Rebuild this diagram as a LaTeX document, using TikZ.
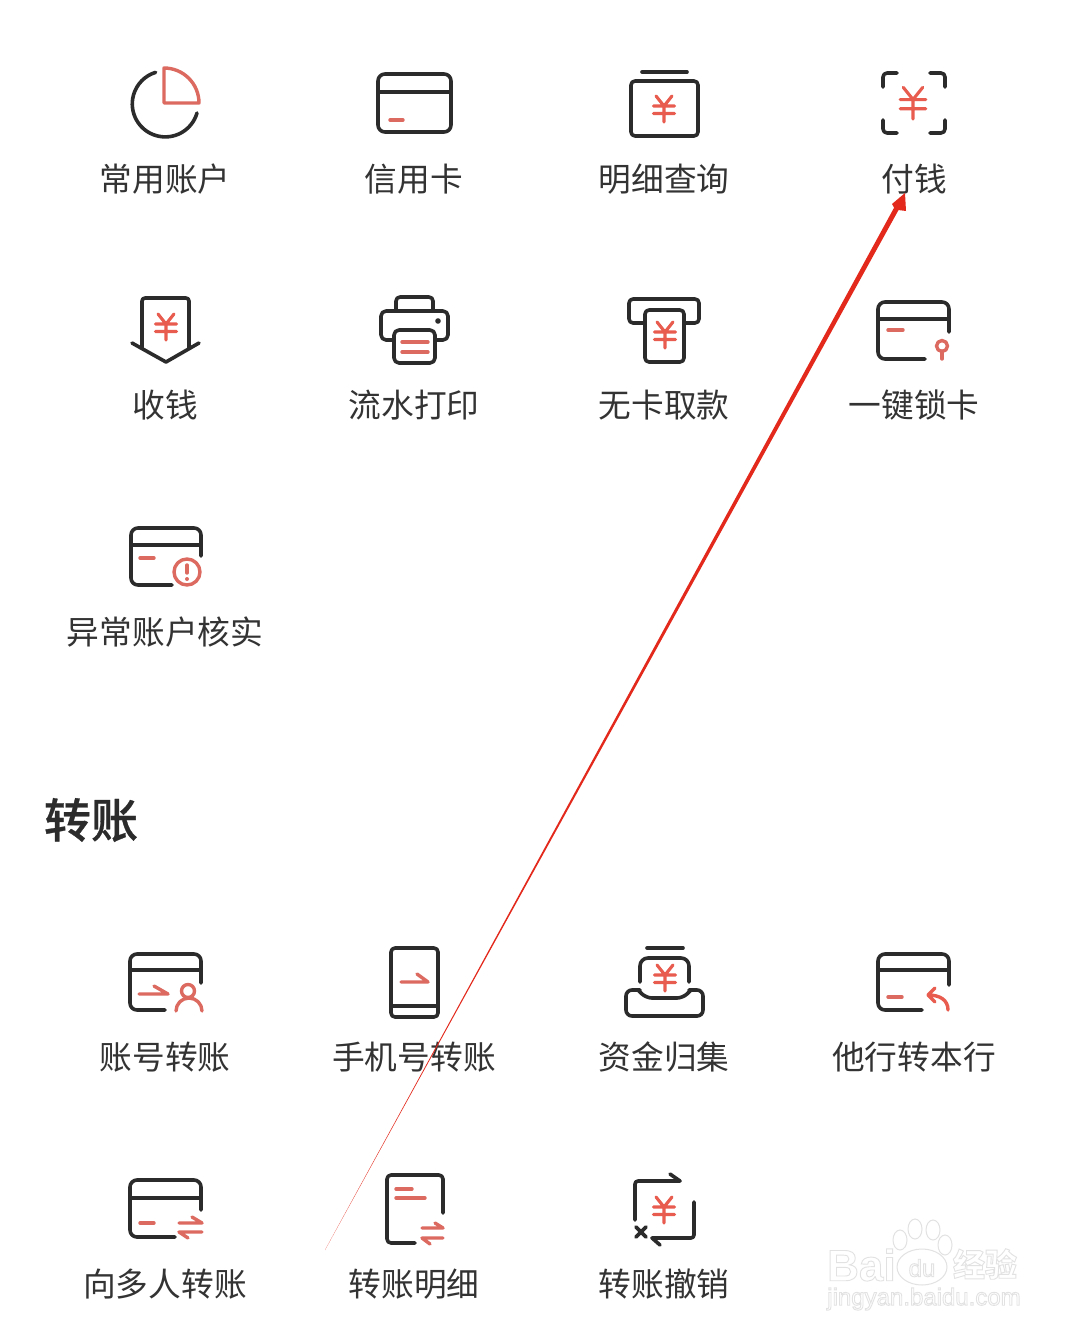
\documentclass[tikz,border=0pt]{standalone}
\usepackage{fontspec}
\setmainfont{Liberation Sans}
\newfontfamily\cjk{Noto Sans CJK SC}
\newfontfamily\cjkmed[FakeBold=0.6]{Noto Sans CJK SC Medium}
\usetikzlibrary{positioning, calc}

\definecolor{inkdark}{HTML}{2B2B2B}
\definecolor{inkred}{HTML}{DC6A60}
\definecolor{yenred}{HTML}{E85C50}
\definecolor{arrowred}{HTML}{E3281C}
\definecolor{txtgray}{HTML}{333333}
\definecolor{wmgray}{HTML}{E2E2E2}

\tikzset{
  darkline/.style={draw=inkdark, line width=3.6pt, line cap=round, line join=round},
  redline/.style={draw=inkred, line width=3.4pt, line cap=round, line join=round},
  caption/.style={text=txtgray, font=\cjk\fontsize{32.7}{36}\selectfont, inner sep=0pt},
  yuan/.pic={
    \draw[draw=yenred, line width=3.1pt, line cap=round, line join=round]
      (-8,-12) -- (0,-2) -- (8,-12)
      (-10.5,-2) -- (10.5,-2)
      (-10.5,5.5) -- (10.5,5.5)
      (0,-2) -- (0,14);
  }
}

% left, top, right, header y, right end y, bottom, bottom end x
\newcommand{\cardopen}[7]{
  \draw[darkline, rounded corners=7pt] (#3,#5) -- (#3,#2) -- (#1,#2) -- (#1,#6) -- (#7,#6);
  \draw[darkline] (#1,#4) -- (#3,#4);
}
% hollow letters of the watermark
\newcommand{\hollow}[1]{\special{pdf:code 1 Tr 0.9 w}#1\special{pdf:code 0 Tr 1 w}}

\begin{document}
\begin{tikzpicture}[x=1pt, y=-1pt]
   \useasboundingbox (0,0) rectangle (1080,1335);
   \fill[white] (0,0) rectangle (1080,1335);

   % first group
   \draw[darkline] (197,113) arc[start angle=16, end angle=253, radius=33];
   \draw[redline] (164,70) -- (164,103) -- (199,103) arc[start angle=0, end angle=-90, radius=35] -- cycle;
   \node[caption] (account) at (165,179) {常用账户};

   \draw[darkline, rounded corners=7pt] (378,74) rectangle (451,132);
   \draw[darkline] (378,92) -- (451,92);
   \draw[redline] (390,120) -- (403,120);
   \node[caption] (credit) at (414,179) {信用卡};

   \draw[darkline] (642,72) -- (687,72);
   \draw[darkline, rounded corners=4pt] (631,81) rectangle (698,136);
   \pic at (664,108) {yuan};
   \node[caption] (detail) at (664,179) {明细查询};

   \draw[darkline, rounded corners=4pt] (883,87) -- (883,73) -- (897,73);
   \draw[darkline, rounded corners=4pt] (930,73) -- (945,73) -- (945,87);
   \draw[darkline, rounded corners=4pt] (883,120) -- (883,133) -- (897,133);
   \draw[darkline, rounded corners=4pt] (930,133) -- (945,133) -- (945,120);
   \pic[scale=1.22] at (913,102) {yuan};
   \node[caption] (pay) at (914,179) {付钱};

   % second row
   \draw[darkline, rounded corners=3pt] (142,348) -- (142,298) -- (189,298) -- (189,348);
   \draw[darkline] (132,343) -- (166,362) -- (199,343);
   \pic at (166,326) {yuan};
   \node[caption] (receive) at (165,405) {收钱};

   \draw[darkline, rounded corners=4pt] (396,311) -- (396,297) -- (433,297) -- (433,311);
   \draw[darkline, rounded corners=5pt] (394,340) -- (381,340) -- (381,311) -- (448,311) -- (448,340) -- (435,340);
   \draw[darkline, rounded corners=5pt] (394,330) rectangle (435,363);
   \fill[inkdark] (438,321) circle (2.8);
   \draw[redline] (402,342) -- (428,342) (402,352) -- (428,352);
   \node[caption] (printer) at (414,405) {流水打印};

   \draw[darkline, rounded corners=4pt] (645,323) -- (629,323) -- (629,299) -- (699,299) -- (699,323) -- (684,323);
   \draw[darkline, rounded corners=4pt] (645,310) rectangle (684,362);
   \pic at (665,334) {yuan};
   \node[caption] (cardless) at (664,405) {无卡取款};

   \cardopen{878}{302}{949}{319}{332}{359}{925}
   \draw[redline] (888,330) -- (903,330);
   \draw[redline] (942,346) circle (5.5);
   \draw[redline] (942,351) -- (942,359);
   \node[caption] (lockcard) at (914,405) {一键锁卡};

   % third row
   \cardopen{131}{528}{201}{545}{556}{585}{172}
   \draw[redline] (140,558) -- (154,558);
   \draw[redline] (187,572) circle (13);
   \draw[redline] (187,565) -- (187,573);
   \fill[inkred] (187,579) circle (2);
   \node[caption] (abnormal) at (165,632) {异常账户核实};

   \node[text=inkdark, font=\cjkmed\fontsize{47}{50}\selectfont, inner sep=0pt] (transfer) at (91,820) {转账};

   % transfer group
   \cardopen{130}{954}{201}{970}{983}{1010}{165}
   \draw[redline] (139,994) -- (168,994) -- (154,986);
   \draw[redline] (188,991) circle (6.5);
   \draw[redline] (176,1011) arc[start angle=180, end angle=360, radius=13];
   \node[caption] (byaccount) at (165,1057) {账号转账};

   \draw[darkline, rounded corners=4pt] (391,948) rectangle (438,1017);
   \draw[darkline] (391,1006) -- (438,1006);
   \draw[redline] (401,982) -- (428,982) -- (417,974);
   \node[caption] (byphone) at (414,1057) {手机号转账};

   \draw[darkline] (647,948) -- (683,948);
   \draw[darkline, rounded corners=8pt] (640,982) -- (640,958) -- (689,958) -- (689,982);
   \draw[darkline, rounded corners=6pt] (640,990) -- (626,990) -- (626,1016) -- (703,1016) -- (703,990) -- (689,990);
   \draw[darkline, rounded corners=6pt] (638,990) -- (646,998) -- (683,998) -- (691,990);
   \pic at (665,977) {yuan};
   \node[caption] (collect) at (664,1057) {资金归集};

   \cardopen{878}{954}{949}{970}{985}{1010}{922}
   \draw[redline] (888,997) -- (902,997);
   \draw[draw=yenred, line width=3.4pt, line cap=round, line join=round]
     (948,1010) .. controls (948,1000) and (940,995) .. (928,995)
     (935,988) -- (928,995) -- (935,1002);
   \node[caption] (otherbank) at (914,1057) {他行转本行};

   % last row
   \cardopen{130}{1180}{201}{1198}{1210}{1237}{175}
   \draw[redline] (140,1223) -- (154,1223);
   \draw[redline] (179,1223) -- (202,1223) -- (192,1217);
   \draw[redline] (202,1232) -- (179,1232) -- (188,1238);
   \node[caption] (multi) at (165,1284) {向多人转账};

   \draw[darkline, rounded corners=4pt] (443,1213) -- (443,1175) -- (387,1175) -- (387,1243) -- (415,1243);
   \draw[redline] (396,1189) -- (412,1189) (396,1198) -- (425,1198);
   \draw[redline] (422,1228) -- (443,1228) -- (435,1223);
   \draw[redline] (443,1238) -- (422,1238) -- (430,1244);
   \node[caption] (history) at (414,1284) {转账明细};

   \draw[darkline, rounded corners=3pt] (635,1220) -- (635,1181) -- (680,1181);
   \draw[darkline] (680,1181) -- (670,1174);
   \draw[darkline, rounded corners=3pt] (694,1202) -- (694,1238) -- (652,1238);
   \draw[darkline] (652,1238) -- (660,1245);
   \draw[darkline] (636,1227) -- (646,1237) (646,1227) -- (636,1237);
   \pic at (664,1209) {yuan};
   \node[caption] (revoke) at (664,1284) {转账撤销};

   % watermark
   \node[text=wmgray, font=\bfseries\fontsize{44}{44}\selectfont, inner sep=0pt, anchor=west] (wmbai) at (827,1265) {\hollow{Bai}};
   \draw[wmgray, line width=1pt] (900,1240) ellipse (7 and 10)
        (915,1229) ellipse (7 and 10)
        (933,1230) ellipse (7 and 10)
        (945,1245) ellipse (7 and 10);
   \draw[wmgray, line width=1pt, fill=white] (922,1267) ellipse (25 and 18);
   \node[text=wmgray, font=\fontsize{24}{24}\selectfont, inner sep=0pt] (wmdu) at (922,1268) {\hollow{du}};
   \node[text=wmgray, font=\cjk\bfseries\fontsize{32}{32}\selectfont, inner sep=0pt] (wmjy) at (985,1264) {\hollow{经验}};
   \node[text=wmgray, font=\fontsize{24}{24}\selectfont, inner sep=0pt] (wmurl) at (924,1299) {\hollow{jingyan.baidu.com}};

   % red arrow
   \coordinate (tail) at (325,1250);
   \coordinate (tip) at (905,193);
   \fill[arrowred] (tail)
     -- ($(tail)!0.25!(tip)+(0.5,0.27)$)
     -- ($(tail)!0.985!(tip)+(2.2,1.2)$)
     -- (906,211) -- (tip) -- (892,204)
     -- ($(tail)!0.985!(tip)+(-2.2,-1.2)$)
     -- ($(tail)!0.25!(tip)+(-0.5,-0.27)$) -- cycle;
\end{tikzpicture}
\end{document}
